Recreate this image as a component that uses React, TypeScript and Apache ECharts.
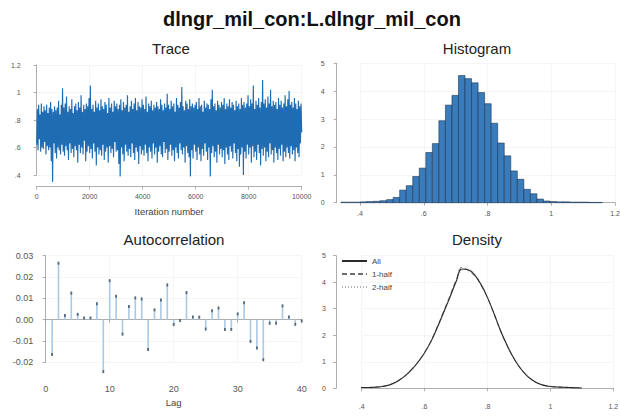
import React, { useEffect, useRef } from "react";
import * as echarts from "echarts";

// MCMC draws of the lagged coefficient, one kept every `traceStep` iterations
const traceStep = 25;
const traceValues = [
  .62, .88, .58, .91, .66, .84, .57, .92, .60, .86, .59, .90, .64, .87, .55, .91, .61, .85, .58, .89,
  .60, .93, .50, .88, .35, .86, .63, .90, .56, .87, .52, .89, .60, .94, .58, .84, .55, .91, .62, 1.03,
  .57, .89, .54, .92, .61, .97, .58, .86, .51, .90, .63, .88, .56, .95, .59, .85, .53, .90, .61, .92,
  .58, .87, .49, .93, .62, .89, .56, .98, .60, .86, .55, .91, .65, .88, .50, .92, .57, .90, .61, .96,
  .56, 1.05, .59, .88, .52, .91, .63, .86, .57, .94, .47, .89, .60, .92, .55, .87, .58, .95, .54, .90,
  .62, .88, .51, .93, .57, .91, .60, .85, .49, .96, .61, .89, .56, .92, .59, .86, .53, .94, .64, .90,
  .57, .92, .58, .88, .48, .91, .39, .95, .60, .87, .55, .93, .50, .89, .62, .91, .57, .98, .54, .86,
  .59, .90, .53, .94, .63, .88, .56, .92, .51, .96, .60, .87, .57, .93, .48, .90, .61, .89, .55, .95,
  .58, .91, .54, .88, .62, .97, .56, .86, .50, .92, .60, .90, .57, .94, .52, .87, .63, .91, .55, .89,
  .60, .93, .49, .90, .57, .88, .61, .95, .55, .91, .53, .87, .64, .92, .56, .89, .59, .99, .51, .91,
  .57, .88, .62, .94, .54, .90, .58, .92, .50, .86, .60, .96, .56, .91, .52, .89, .63, .93, .58, 1.04,
  .55, .90, .60, .87, .49, .94, .61, .92, .56, .88, .53, .95, .39, .90, .58, .92, .52, .89, .62, .91,
  .57, .93, .51, .88, .60, .96, .55, .90, .50, .91, .59, .86, .54, .94, .63, .89, .57, .92, .51, .91,
  .60, .88, .39, .95, .56, 1.02, .61, .90, .53, .92, .57, .87, .49, .94, .62, .91, .55, .89, .59, .93,
  .53, .91, .58, .96, .48, .88, .60, .92, .55, .90, .51, .95, .61, .89, .57, .93, .52, .91, .63, .87,
  .56, .94, .50, .90, .59, .92, .46, .88, .55, .96, .60, .91, .40, .93, .57, .89, .52, .92, .62, .98,
  .55, .90, .60, .95, .49, .92, .61, 1.05, .53, .88, .57, .94, .51, .91, .62, .96, .56, .89, .47, .93,
  .59, 1.09, .54, .92, .60, .95, .50, .89, .57, .97, .53, .92, .63, 1.02, .55, .90, .58, .94, .49, .91,
  .60, .93, .56, .88, .51, .96, .59, .91, .54, .94, .62, .89, .50, .92, .57, .98, .53, .90, .60, .95,
  .56, 1.01, .52, .91, .61, .93, .55, .89, .58, .96, .50, .92, .60, .88, .56, .94, .53, .90, .63, .92,
  .71,
];

// Histogram: 40 equal-width bins
const histStart = 0.34;
const histWidth = 0.0205;
const histHeights = [
  0.02, 0.02, 0.02, 0.03, 0.04, 0.05, 0.07, 0.11, 0.19, 0.45,
  0.61, 0.94, 1.24, 1.80, 2.12, 2.94, 3.50, 3.85, 4.56, 4.45,
  4.30, 3.95, 3.55, 2.85, 2.14, 1.68, 1.14, 0.84, 0.48, 0.32,
  0.13, 0.06, 0.04, 0.03, 0.03, 0.02, 0.02, 0.02, 0.01, 0.01,
];

// Autocorrelation by lag
const acfLags = [
  1, 2, 3, 4, 5, 6, 7, 8, 9, 10, 11, 12, 13, 14, 15, 16, 17, 18, 19, 20,
  21, 22, 23, 24, 25, 26, 27, 28, 29, 30, 31, 32, 33, 34, 35, 36, 37, 38, 39, 40,
];
const acfValues = [
  -0.0163, 0.0265, 0.002, 0.0125, 0.0025, 0.0008, 0.0008, 0.0075, -0.0244, 0.0183,
  0.011, -0.0068, 0.0062, 0.0102, 0.0097, -0.014, 0.0046, 0.0092, 0.0163, -0.0023,
  -0.0004, 0.0127, 0.0012, 0.0012, -0.0044, 0.0042, 0.0055, -0.0046, -0.0046, 0.0027,
  0.0079, -0.0102, -0.0133, -0.0188, -0.0017, -0.0017, 0.0065, 0.0013, -0.0022, -0.0006,
];

// Kernel density estimates: full chain and each half
const densityX = [
  0.34, 0.36, 0.38, 0.40, 0.42, 0.44, 0.46, 0.48, 0.50, 0.52,
  0.54, 0.56, 0.58, 0.60, 0.62, 0.64, 0.66, 0.68, 0.70, 0.72,
  0.74, 0.76, 0.78, 0.80, 0.82, 0.84, 0.86, 0.88, 0.90, 0.92,
  0.94, 0.96, 0.98, 1.00, 1.02, 1.04, 1.06, 1.08, 1.10,
];
const densityAll = [
  0.01, 0.02, 0.02, 0.03, 0.03, 0.04, 0.06, 0.10, 0.18, 0.31,
  0.49, 0.72, 1.00, 1.34, 1.76, 2.28, 2.85, 3.42, 4.02, 4.50,
  4.46, 4.26, 3.90, 3.42, 2.84, 2.22, 1.68, 1.21, 0.83, 0.54,
  0.33, 0.19, 0.11, 0.07, 0.05, 0.04, 0.03, 0.02, 0.01,
];
const densityHalf1 = [
  0.01, 0.02, 0.02, 0.03, 0.03, 0.04, 0.06, 0.11, 0.19, 0.32,
  0.50, 0.74, 1.02, 1.36, 1.79, 2.31, 2.89, 3.47, 4.08, 4.56,
  4.43, 4.22, 3.88, 3.41, 2.82, 2.20, 1.66, 1.20, 0.82, 0.53,
  0.33, 0.19, 0.11, 0.07, 0.05, 0.04, 0.03, 0.02, 0.01,
];
const densityHalf2 = [
  0.01, 0.02, 0.02, 0.03, 0.03, 0.04, 0.06, 0.10, 0.17, 0.30,
  0.48, 0.70, 0.98, 1.32, 1.73, 2.25, 2.81, 3.37, 3.96, 4.44,
  4.49, 4.30, 3.93, 3.44, 2.86, 2.24, 1.70, 1.23, 0.84, 0.55,
  0.34, 0.20, 0.12, 0.07, 0.05, 0.04, 0.03, 0.02, 0.01,
];

const FONT = "'Liberation Sans', Arial, Helvetica, sans-serif";
const AXIS_COLOR = "#9a9a9a";
const LABEL_COLOR = "#555";
const GRID_COLOR = "#eeeeee";

// Stata-style numbers: .4 rather than 0.4
const stataNum = (v: number) => {
  const s = String(Math.round(v * 1000) / 1000);
  return s.replace(/^0\./, ".").replace(/^-0\./, "-.");
};

const axisBase = (fontSize: number, margin: number, formatter: (v: number) => string) => ({
  axisLine: { show: true, lineStyle: { color: AXIS_COLOR, width: 0.8 } },
  axisTick: { show: true, length: 3, lineStyle: { color: AXIS_COLOR, width: 0.8 } },
  axisLabel: { fontSize, color: LABEL_COLOR, fontFamily: FONT, margin, formatter },
  splitLine: { show: true, lineStyle: { color: GRID_COLOR, width: 0.6 } },
});

const subTitle = (text: string, x: number, y: number) => ({
  type: "text",
  x,
  y,
  style: {
    text,
    fontSize: 15,
    fontFamily: FONT,
    fill: "#222",
    align: "center",
    textAlign: "center",
    verticalAlign: "middle",
    textVerticalAlign: "middle",
  },
});

export default function App() {
  const ref = useRef<HTMLDivElement>(null);

  useEffect(() => {
    if (!ref.current) return;
    const chart = echarts.init(ref.current, undefined, { renderer: "svg" });

    const traceData = traceValues.map((v, i) => [i * traceStep, v]);
    const histData = histHeights.map((h, k) => [
      histStart + k * histWidth,
      histStart + (k + 1) * histWidth,
      h,
    ]);
    const acfData = acfLags.map((l, i) => [l, acfValues[i]]);
    const dens = (ys: number[]) => densityX.map((x, i) => [x, ys[i]]);

    const option: any = {
      animation: false,
      backgroundColor: "#ffffff",
      textStyle: { fontFamily: FONT },
      graphic: [
        {
          type: "text",
          x: 312,
          y: 19,
          style: {
            text: "dlngr_mil_con:L.dlngr_mil_con",
            fontSize: 20,
            fontWeight: "bold",
            fontFamily: FONT,
            fill: "#111",
            align: "center",
            textAlign: "center",
            verticalAlign: "middle",
            textVerticalAlign: "middle",
          },
        },
        subTitle("Trace", 171, 48),
        subTitle("Histogram", 477, 48),
        subTitle("Autocorrelation", 174, 239.5),
        subTitle("Density", 477, 239.5),
      ],
      legend: {
        data: ["All", "1-half", "2-half"],
        orient: "vertical",
        left: 341,
        top: 257,
        padding: 0,
        itemWidth: 25,
        itemHeight: 8,
        itemGap: 5,
        itemStyle: { opacity: 0 },
        textStyle: { fontSize: 8, color: "#444", fontFamily: FONT },
      },
      grid: [
        { left: 36.7, top: 65, width: 265, height: 110, outerBoundsMode: "none" },
        { left: 360, top: 63.3, width: 255, height: 139.4, outerBoundsMode: "none" },
        { left: 45.7, top: 255.7, width: 256, height: 106.6, outerBoundsMode: "none" },
        { left: 361.7, top: 255.7, width: 251.6, height: 132.6, outerBoundsMode: "none" },
      ],
      xAxis: [
        {
          gridIndex: 0, type: "value", min: 0, max: 10000, interval: 2000, offset: 11.7,
          ...axisBase(7, 6, (v) => String(v)),
          name: "Iteration number", nameLocation: "middle", nameGap: 20,
          nameTextStyle: { fontSize: 9.5, color: "#444", fontFamily: FONT },
        },
        {
          gridIndex: 1, type: "value", min: 0.4, max: 1.2, interval: 0.2, offset: 1.5,
          ...axisBase(7, 6, stataNum),
        },
        {
          gridIndex: 2, type: "value", min: 0, max: 40, interval: 10, offset: 16.7,
          ...axisBase(9, 5, (v) => String(v)),
          name: "Lag", nameLocation: "middle", nameGap: 18,
          nameTextStyle: { fontSize: 9.5, color: "#444", fontFamily: FONT },
        },
        {
          gridIndex: 3, type: "value", min: 0.4, max: 1.2, interval: 0.2, offset: 9.4,
          ...axisBase(7, 5, stataNum),
        },
      ],
      yAxis: [
        {
          gridIndex: 0, type: "value", min: 0.4, max: 1.2, interval: 0.2, offset: 5,
          ...axisBase(7, 11, stataNum),
        },
        {
          gridIndex: 1, type: "value", min: 0, max: 5, interval: 1, offset: 23.3,
          ...axisBase(7, 12, (v) => String(v)),
        },
        {
          gridIndex: 2, type: "value", min: -0.02, max: 0.03, interval: 0.01, offset: 6.4,
          ...axisBase(9, 6, (v) => (Math.abs(v) < 1e-9 ? "0.00" : v.toFixed(2))),
        },
        {
          gridIndex: 3, type: "value", min: 0, max: 5, interval: 1, offset: 25.7,
          ...axisBase(7, 10, (v) => String(v)),
        },
      ],
      series: [
        {
          name: "Trace",
          type: "line",
          xAxisIndex: 0,
          yAxisIndex: 0,
          data: traceData,
          symbol: "none",
          clip: false,
          lineStyle: { width: 1.15, color: "#1f6cb2" },
          silent: true,
        },
        {
          name: "Histogram",
          type: "custom",
          xAxisIndex: 1,
          yAxisIndex: 1,
          data: histData,
          encode: { x: [0, 1], y: 2 },
          clip: false,
          silent: true,
          renderItem: (_params: any, api: any) => {
            const p0 = api.coord([api.value(0), 0]);
            const p1 = api.coord([api.value(1), api.value(2)]);
            return {
              type: "rect",
              shape: { x: p0[0], y: p1[1], width: p1[0] - p0[0], height: p0[1] - p1[1] },
              style: { fill: "#3a7bbb", stroke: "#1c3550", lineWidth: 0.6 },
            };
          },
        },
        {
          name: "Autocorrelation",
          type: "custom",
          xAxisIndex: 2,
          yAxisIndex: 2,
          data: acfData,
          encode: { x: 0, y: 1 },
          clip: false,
          silent: true,
          renderItem: (_params: any, api: any) => {
            const base = api.coord([api.value(0), 0]);
            const tip = api.coord([api.value(0), api.value(1)]);
            return {
              type: "group",
              children: [
                {
                  type: "line",
                  shape: { x1: base[0], y1: base[1], x2: tip[0], y2: tip[1] },
                  style: { stroke: "#a9c9e4", lineWidth: 1.6 },
                },
                {
                  type: "rect",
                  shape: { x: tip[0] - 0.9, y: tip[1] - 1.5, width: 1.8, height: 3 },
                  style: { fill: "#56697a" },
                },
              ],
            };
          },
        },
        {
          name: "All",
          type: "line",
          xAxisIndex: 3,
          yAxisIndex: 3,
          data: dens(densityAll),
          smooth: true,
          symbol: "none",
          clip: false,
          z: 4,
          color: "#2a2a2a",
          lineStyle: { width: 1.1, color: "#2a2a2a", type: "solid" },
        },
        {
          name: "1-half",
          type: "line",
          xAxisIndex: 3,
          yAxisIndex: 3,
          data: dens(densityHalf1),
          smooth: true,
          symbol: "none",
          clip: false,
          z: 3,
          color: "#6e6e6e",
          lineStyle: { width: 1, color: "#6e6e6e", type: [5, 3] },
        },
        {
          name: "2-half",
          type: "line",
          xAxisIndex: 3,
          yAxisIndex: 3,
          data: dens(densityHalf2),
          smooth: true,
          symbol: "none",
          clip: false,
          z: 3,
          color: "#b4b4b4",
          lineStyle: { width: 1, color: "#b4b4b4", type: [1, 2] },
        },
      ],
    };

    chart.setOption(option);
    return () => chart.dispose();
  }, []);

  return (
    <div
      ref={ref}
      style={{ position: "fixed", left: 0, top: 0, width: 620, height: 417, background: "#fff" }}
    />
  );
}
